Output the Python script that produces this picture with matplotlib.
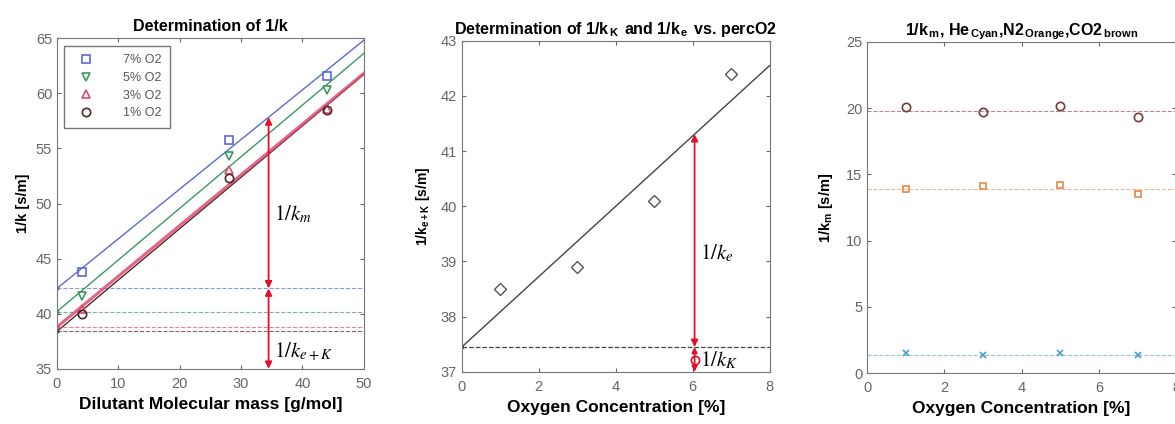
import numpy as np
import matplotlib.pyplot as plt

# Panel 1 : 1/k vs dilutant molecular mass
mw = [4, 28, 44]
k7 = [43.8, 55.8, 61.6]
k5 = [41.6, 54.3, 60.3]
k3 = [40.4, 53.0, 58.6]
k1 = [40.0, 52.3, 58.5]
fit_icpt = [42.3, 40.2, 38.8, 38.4]   # 7%, 5%, 3%, 1%
fit_slope = [0.45, 0.468, 0.46, 0.466]
labels1 = ['7% O2', '5% O2', '3% O2', '1% O2']

# Panel 2 : 1/k_e+K vs O2
o2 = [1, 3, 5, 7]
kek = [38.5, 38.9, 40.1, 42.4]
icpt2 = 37.45
slope2 = 0.6375

# Panel 3 : 1/k_m per dilutant
km_co2 = [20.1, 19.7, 20.2, 19.3]
km_n2 = [13.9, 14.1, 14.2, 13.5]
km_he = [1.5, 1.4, 1.5, 1.4]
km_mean = [19.8, 13.9, 1.4]

plt.rcParams['font.family'] = ['Liberation Sans', 'DejaVu Sans']
plt.rcParams['mathtext.fontset'] = 'custom'
plt.rcParams['mathtext.rm'] = 'Liberation Sans'
plt.rcParams['mathtext.bf'] = 'Liberation Sans:bold'
plt.rcParams['mathtext.it'] = 'Liberation Sans:italic'
tick_c = '#666666'
title_fs = 11.5
xlab_fs = 12.5

fig = plt.figure(figsize=(11.75, 4.24), dpi=100)
ax1 = fig.add_axes([0.0485, 0.130, 0.261, 0.780])
ax2 = fig.add_axes([0.393, 0.123, 0.262, 0.781])
ax3 = fig.add_axes([0.738, 0.120, 0.263, 0.781])

for ax in (ax1, ax2, ax3):
    ax.tick_params(direction='in', top=True, right=True, labelsize=10.5,
                   colors=tick_c, length=3)
    ax.tick_params(axis='x', pad=6)
    for s in ax.spines.values():
        s.set_color('#777777')

# ---- panel 1
cols = ['#5a6ad0', '#3a9a5e', '#e04a6e', '#4a2a2a']
mk = ['s', 'v', '^', 'o']
lws = [1.0, 1.0, 2.2, 1.0]
xf = np.array([0, 50])
series = [k7, k5, k3, k1]
order = [0, 1, 3, 2]
for i in order:
    a, b = fit_icpt[i], fit_slope[i]
    ax1.plot(xf, a + b * xf, '-', color=cols[i], lw=lws[i], alpha=0.85 if i == 2 else 1)
    ax1.plot(0, a, '.', color=cols[i], ms=4)
    ax1.plot(xf, [a, a], '--', color=cols[i], lw=0.8, alpha=0.7)
handles = []
for i in range(4):
    h, = ax1.plot(mw, series[i], mk[i], mfc='none', mec=cols[i], ms=6, mew=1.2,
                  label=labels1[i])
    handles.append(h)
leg = ax1.legend(handles=handles, loc='upper left', fontsize=9, frameon=True,
                 fancybox=False, edgecolor='#555555', handletextpad=2.0,
                 borderpad=0.7, labelspacing=0.45, borderaxespad=0.6)
for t in leg.get_texts():
    t.set_color('#555555')

xa = 34.5
ytop = fit_icpt[0] + fit_slope[0] * xa
for y0, y1 in [(fit_icpt[0], ytop), (fit_icpt[0], 35)]:
    ax1.annotate('', xy=(xa, y1), xytext=(xa, y0),
                 arrowprops=dict(arrowstyle='<|-|>', color='#e0102a', lw=1.3,
                                 shrinkA=0, shrinkB=0, mutation_scale=10))
ax1.text(35.3, 49.0, r'$1/k_m$', fontsize=15, va='center', math_fontfamily='stix')
ax1.text(35.3, 36.6, r'$1/k_{e+K}$', fontsize=15, va='center', math_fontfamily='stix')

ax1.set_xlim(0, 50)
ax1.set_ylim(35, 65)
ax1.set_title('Determination of 1/k', fontsize=title_fs, fontweight='bold', pad=5)
ax1.set_xlabel('Dilutant Molecular mass [g/mol]', fontsize=xlab_fs, fontweight='bold')
ax1.set_ylabel('1/k [s/m]', fontsize=10.5, fontweight='bold', labelpad=4)

# ---- panel 2
xf2 = np.array([0, 8])
ax2.plot(xf2, icpt2 + slope2 * xf2, '-', color='#444444', lw=1.0)
ax2.plot(0, icpt2, '.', color='#333333', ms=3)
ax2.plot(xf2, [icpt2, icpt2], '--', color='#444444', lw=0.9)
ax2.plot(o2, kek, 'D', mfc='none', mec='#555555', ms=6, mew=1.0)
xb = 6.05
ax2.annotate('', xy=(xb, icpt2 + slope2 * xb), xytext=(xb, icpt2),
             arrowprops=dict(arrowstyle='<|-|>', color='#e0102a', lw=1.3,
                             shrinkA=0, shrinkB=0, mutation_scale=10))
ax2.annotate('', xy=(xb, 37.0), xytext=(xb, icpt2),
             arrowprops=dict(arrowstyle='<|-|>', color='#e0102a', lw=1.3,
                             shrinkA=0, shrinkB=0, mutation_scale=8))
ax2.plot(xb, 37.22, 'o', mfc='none', mec='#e0102a', ms=6, mew=1.2)
ax2.text(6.2, 39.15, r'$1/k_e$', fontsize=15, va='center', math_fontfamily='stix')
ax2.text(6.2, 37.22, r'$1/k_K$', fontsize=15, va='center', math_fontfamily='stix')
ax2.set_xlim(0, 8)
ax2.set_ylim(37, 43)
ax2.set_title(r'Determination of 1/k$_{\,\mathbf{K}\,}$ and 1/k$_{\,\mathbf{e}\,}$ vs. percO2',
              fontsize=title_fs, fontweight='bold', pad=5)
ax2.set_xlabel('Oxygen Concentration [%]', fontsize=xlab_fs, fontweight='bold')
ax2.set_ylabel(r'1/k$_\mathbf{e+K}$ [s/m]', fontsize=10, fontweight='bold', labelpad=6)

# ---- panel 3
c_co2, c_n2, c_he = '#7a3a3a', '#e8874a', '#4a9fd0'
ax3.plot(o2, km_co2, 'o', mfc='none', mec=c_co2, ms=6, mew=1.2)
ax3.plot(o2, km_n2, 's', mfc='none', mec=c_n2, ms=5, mew=1.2)
ax3.plot(o2, km_he, 'x', color=c_he, ms=5, mew=1.2)
ax3.plot([0, 8], [km_mean[0]] * 2, '--', color=c_co2, lw=0.8, alpha=0.6)
ax3.plot([0, 8], [km_mean[1]] * 2, '--', color=c_n2, lw=0.8, alpha=0.6)
ax3.plot([0, 8], [km_mean[2]] * 2, '--', color=c_he, lw=0.8, alpha=0.6)
ax3.set_xlim(0, 8)
ax3.set_ylim(0, 25)
ax3.set_title(r'1/k$_{\,\mathbf{m}}$, He$_{\,\mathbf{Cyan}}$,N2$_{\,\mathbf{Orange}}$,CO2$_{\,\mathbf{brown}}$',
              fontsize=title_fs, fontweight='bold', pad=5)
ax3.set_xlabel('Oxygen Concentration [%]', fontsize=xlab_fs, fontweight='bold')
ax3.set_ylabel(r'1/k$_\mathbf{m}$ [s/m]', fontsize=10.5, fontweight='bold', labelpad=8)

fig.savefig('out.png', dpi=100)
